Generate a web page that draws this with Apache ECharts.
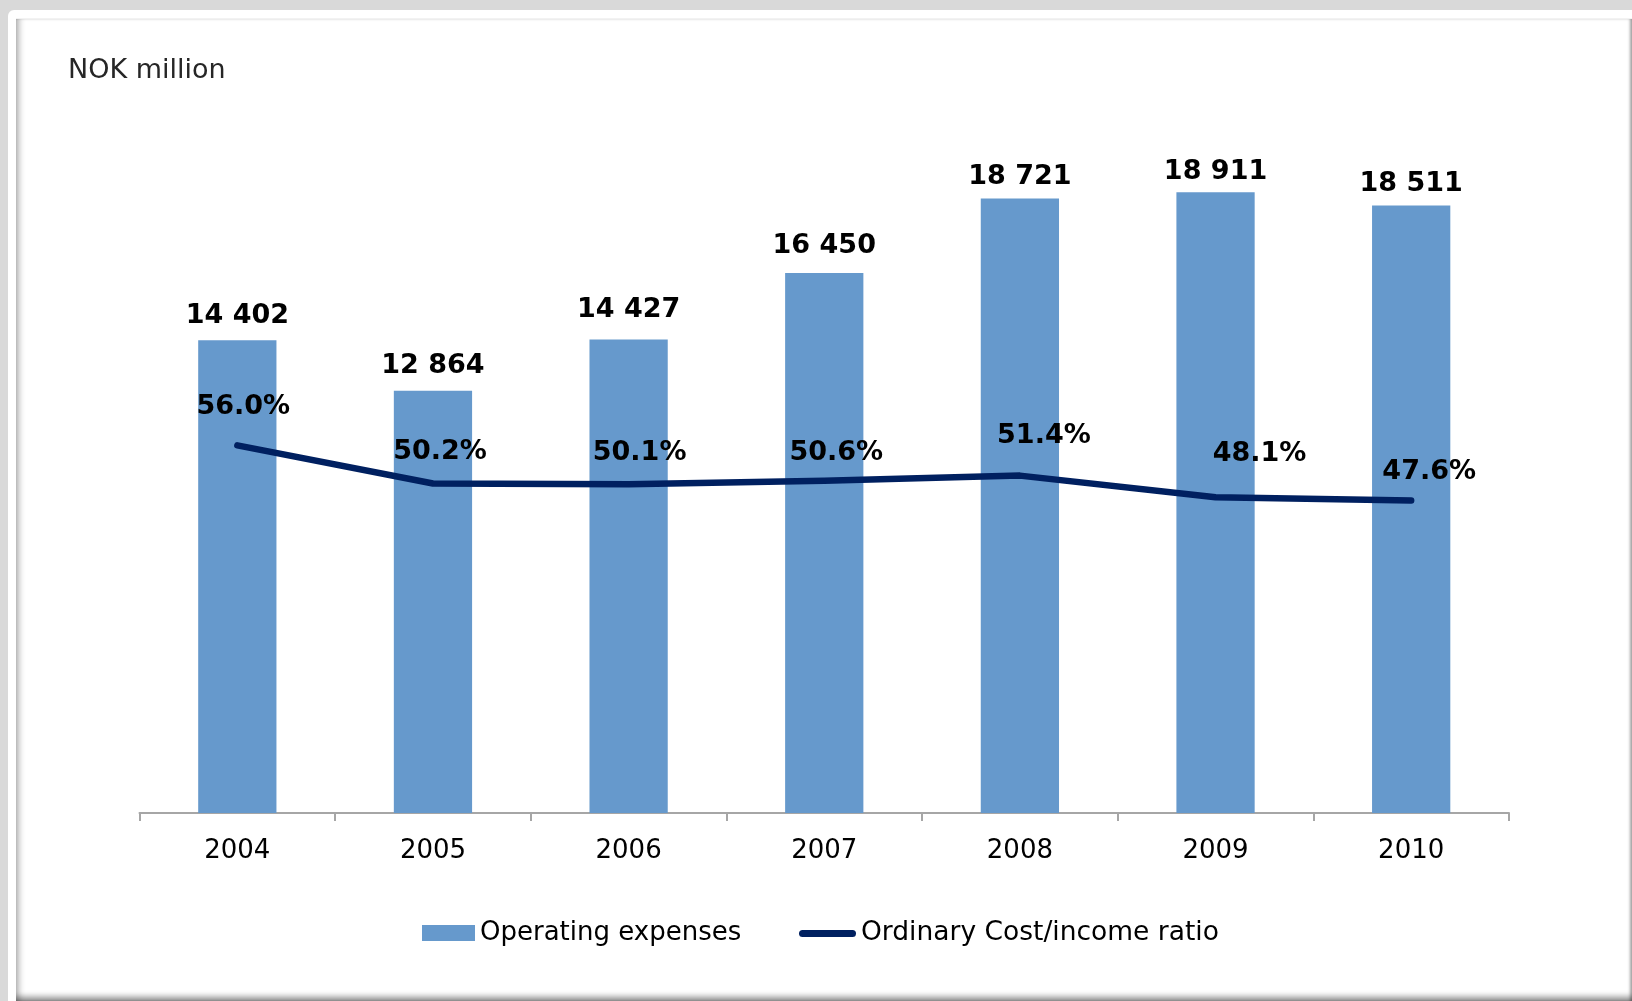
<!DOCTYPE html>
<html>
<head>
<meta charset="utf-8">
<title>Operating expenses and cost/income ratio</title>
<script src="https://cdn.jsdelivr.net/npm/echarts@6/dist/echarts.min.js"></script>
<style>
  html, body { margin: 0; padding: 0; width: 1632px; height: 1001px; overflow: hidden; background: #d9d9d9; }
  #outer { position: absolute; left: 8px; top: 10px; width: 1624px; height: 991px; background: #fff; border-top-left-radius: 6px; }
  #inner {
    position: absolute; left: 16px; top: 18px; width: 1616px; height: 983px; background: #fff;
    box-sizing: border-box; border-top: 1px solid #f2f2f2;
    box-shadow: inset 7px 0 6px -4px rgba(0,0,0,0.30),
                inset -3px 0 3px -1px rgba(0,0,0,0.35),
                inset 0 -8px 6px -4px rgba(0,0,0,0.45);
  }
  #chart { position: absolute; left: 0; top: 0; width: 1632px; height: 1001px; }
</style>
</head>
<body>
<div id="outer"></div>
<div id="inner"></div>
<div id="chart"></div>
<script>
// Years on the category axis
const years = ['2004', '2005', '2006', '2007', '2008', '2009', '2010'];
// Operating expenses, NOK million
const operatingExpenses = [14402, 12864, 14427, 16450, 18721, 18911, 18511];
// Ordinary cost/income ratio, percent
const costIncomeRatio = [56.0, 50.2, 50.1, 50.6, 51.4, 48.1, 47.6];

// Hand-placed label nudges (pixels)
const barLabelShift = [-11, -11, -16, -14, -8, -7, -8];
const ratioLabelShift = [[6, -19], [7, -13], [11, -12], [12, -9], [24, -21], [44, -24], [18, -10]];

const FONT = 'DejaVu Sans';
const withSpaces = v => String(v).replace(/\B(?=(\d{3})+(?!\d))/g, ' ');

const chart = echarts.init(document.getElementById('chart'), null, { renderer: 'canvas' });

chart.setOption({
  animation: false,
  backgroundColor: 'transparent',
  title: {
    text: 'NOK million',
    left: 68, top: 57, padding: 0,
    textStyle: { fontFamily: FONT, fontSize: 27, fontWeight: 'normal', color: '#262626' }
  },
  legend: [
    {
      data: [{ name: 'Operating expenses', icon: 'rect' }],
      left: 422, top: 920, padding: 0,
      itemWidth: 53, itemHeight: 16, selectedMode: false,
      textStyle: { fontFamily: FONT, fontSize: 26, lineHeight: 26, color: '#000' }
    },
    {
      data: [{
        name: 'Ordinary Cost/income ratio',
        icon: 'path://M3.5 0H53.5A3.5 3.5 0 0 1 53.5 7H3.5A3.5 3.5 0 0 1 3.5 0Z',
        itemStyle: { color: '#002060' }
      }],
      left: 799, top: 920, padding: 0,
      itemWidth: 57, itemHeight: 7, selectedMode: false,
      textStyle: { fontFamily: FONT, fontSize: 26.5, lineHeight: 26, color: '#000' }
    }
  ],
  grid: { left: 139.5, right: 123, top: 156.6, bottom: 188, containLabel: false },
  xAxis: {
    type: 'category',
    data: years,
    axisLine: { lineStyle: { color: '#a6a6a6', width: 2 } },
    axisTick: { show: true, interval: 0, length: 8, lineStyle: { color: '#a6a6a6', width: 2 } },
    axisLabel: { fontFamily: FONT, fontSize: 26, color: '#000', margin: 25 }
  },
  yAxis: [
    { type: 'value', min: 0, max: 20000, show: false, splitLine: { show: false } },
    { type: 'value', min: 0, max: 100, show: false, splitLine: { show: false } }
  ],
  series: [
    {
      name: 'Operating expenses',
      type: 'bar',
      barWidth: '40%',
      itemStyle: { color: '#6699CC' },
      data: operatingExpenses.map((v, i) => ({ value: v, label: { offset: [0, barLabelShift[i]] } })),
      label: {
        show: true, position: 'top', distance: 0,
        fontFamily: FONT, fontSize: 27, fontWeight: 'bold', color: '#000',
        formatter: p => withSpaces(p.value)
      },
      z: 2
    },
    {
      name: 'Ordinary Cost/income ratio',
      type: 'line',
      yAxisIndex: 1,
      symbol: 'circle', symbolSize: 1, showSymbol: true,
      itemStyle: { color: '#002060' },
      lineStyle: { color: '#002060', width: 6.5, cap: 'round', join: 'round' },
      data: costIncomeRatio.map((v, i) => ({ value: v, label: { offset: ratioLabelShift[i] } })),
      label: {
        show: true, position: 'top', distance: 5,
        fontFamily: FONT, fontSize: 27, fontWeight: 'bold', color: '#000',
        formatter: p => p.value.toFixed(1) + '%'
      },
      z: 3
    }
  ]
});
</script>
</body>
</html>
